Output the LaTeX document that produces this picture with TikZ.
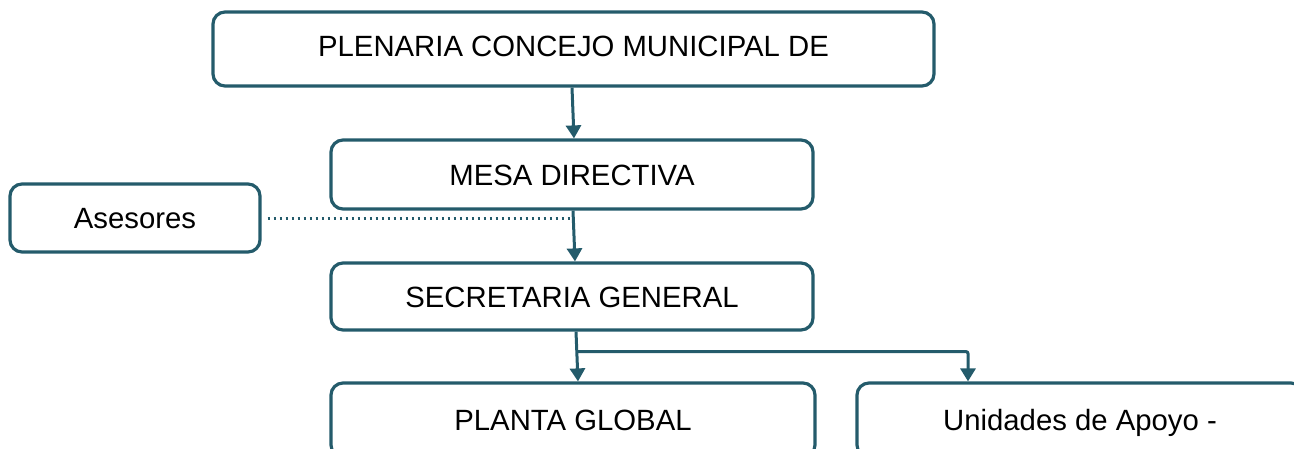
\documentclass[tikz,border=0pt]{standalone}
\usepackage{fontspec}
\setmainfont{Liberation Sans}
\usetikzlibrary{arrows.meta,calc}
\definecolor{teal1}{HTML}{245B6B}
\begin{document}
\begin{tikzpicture}[x=1pt,y=-1pt,
  box/.style={draw=teal1,line width=3.2pt,rounded corners=12pt,fill=white,
    font=\fontsize{29.3}{32}\selectfont,text height=21pt,text depth=0pt,inner sep=0pt},
  arr/.style={draw=teal1,line width=3pt,-{Triangle[width=15pt,length=13pt]}},
  dots/.style={draw=teal1,line width=3pt,dash pattern=on 2.6pt off 3.4pt}]
\useasboundingbox (0,0) rectangle (1294,448);
\clip (0,0) rectangle (1294,448);
\node[box,minimum width=721pt,minimum height=74pt,text depth=6pt] (plen) at (573.5,49) {PLENARIA CONCEJO MUNICIPAL DE};
\node[box,minimum width=482pt,minimum height=69pt] (mesa) at (572,174.5) {MESA DIRECTIVA};
\node[box,minimum width=250pt,minimum height=68pt] (ases) at (135,218) {Asesores};
\node[box,minimum width=482pt,minimum height=67pt] (sec) at (572,296.5) {SECRETARIA GENERAL};
\node[box,minimum width=484pt,minimum height=74pt] (plan) at (573,420) {PLANTA GLOBAL};
\node[box,minimum width=446pt,minimum height=74pt] (unid) at (1080,420) {Unidades de Apoyo -};
\draw[arr] ([xshift=-1.5pt]plen.south) -- ([xshift=2pt]mesa.north);
\draw[dots] ([xshift=6pt]ases.east) -- ([xshift=1pt]mesa.south |- ases.east);
\draw[arr] ([xshift=1pt]mesa.south) -- ([xshift=3pt]sec.north);
\draw[arr] ([xshift=4pt]sec.south) -- ([xshift=5pt]plan.north);
\coordinate (br) at ($(sec.south)+(5,20)$);
\draw[arr,rounded corners=2pt] (br) -| ([xshift=-112pt]unid.north);
\end{tikzpicture}
\end{document}
